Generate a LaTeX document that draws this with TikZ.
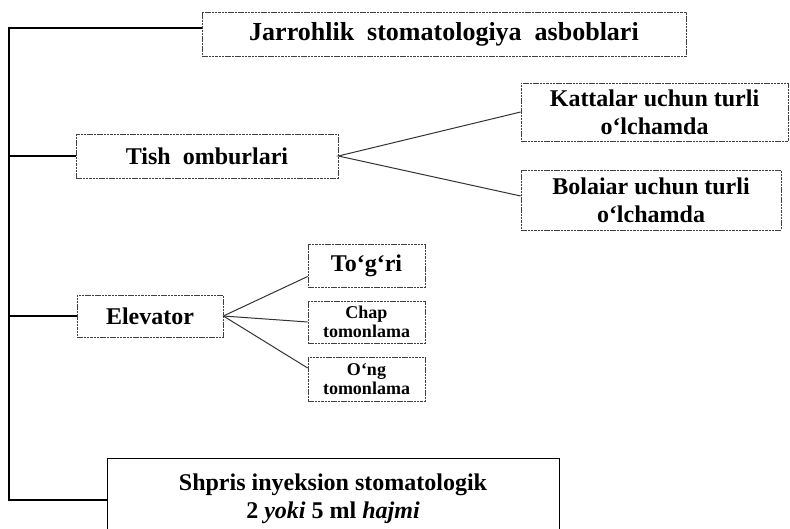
\documentclass[tikz,border=0pt]{standalone}
\usepackage{fontspec}
\setmainfont{Liberation Serif}
\begin{document}
\begin{tikzpicture}[x=1pt,y=-1pt,
  box/.style={draw=black!75, line width=0.7pt, dash pattern=on 2.5pt off 0.8pt,
    inner sep=0pt, align=center, font=\bfseries\fontsize{24}{28}\selectfont},
  smallbox/.style={box, font=\bfseries\fontsize{18}{18.5}\selectfont},
  trunk/.style={line width=1.1pt, black},
  branch/.style={line width=1pt, black!80}]
\useasboundingbox (0,0) rectangle (790,529);
\clip (0,0) rectangle (790,529);
\fill[white] (0,0) rectangle (790,529);

% main heading
\node[box, font=\bfseries\fontsize{26}{30}\selectfont, minimum width=484pt, minimum height=44pt]
  (title) at (444,34) {Jarrohlik\ \ stomatologiya\ \ asboblari};

% forceps and their sizes
\node[box, minimum width=262pt, minimum height=44pt] (tish) at (207,156) {Tish\ \ omburlari};
\node[box, minimum width=267pt, minimum height=58pt] (katt) at (654.5,112) {Kattalar uchun turli\\o‘lchamda};
\node[box, minimum width=260pt, minimum height=60pt] (bola) at (651,200) {Bolaiar uchun turli\\o‘lchamda};

% elevators
\node[box, minimum width=146pt, minimum height=42pt] (elev) at (150,316) {Elevator};
\node[box, minimum width=117pt, minimum height=43pt] (togri) at (366.5,265.5) {To‘g‘ri};
\node[smallbox, minimum width=117pt, minimum height=42pt] (chap) at (366.5,322) {Chap\\tomonlama};
\node[smallbox, minimum width=117pt, minimum height=44pt] (ong) at (366.5,379) {O‘ng\\tomonlama};

% syringe
\node[box, draw=black, dash pattern=, minimum width=452pt, minimum height=82pt] (shpris) at (333,499)
  {Shpris inyeksion stomatologik\\2 \textit{yoki} 5 ml \textit{hajmi}};

% left trunk
\coordinate (t1) at (9,28);
\coordinate (t4) at (9,500);
\draw[trunk] (title.west |- t1) -- (t1) -- (t4) -- (shpris.west |- t4);
\draw[trunk] (t1 |- tish.west) -- (tish.west);
\draw[trunk] (t1 |- elev.west) -- (elev.west);

% branches
\draw[branch] (katt.west) -- (tish.east) -- ([yshift=4pt]bola.west);
\draw[branch] ([yshift=-11pt]togri.west) -- (elev.east) -- ([yshift=11pt]ong.west);
\draw[branch] (elev.east) -- (chap.west);
\end{tikzpicture}
\end{document}
